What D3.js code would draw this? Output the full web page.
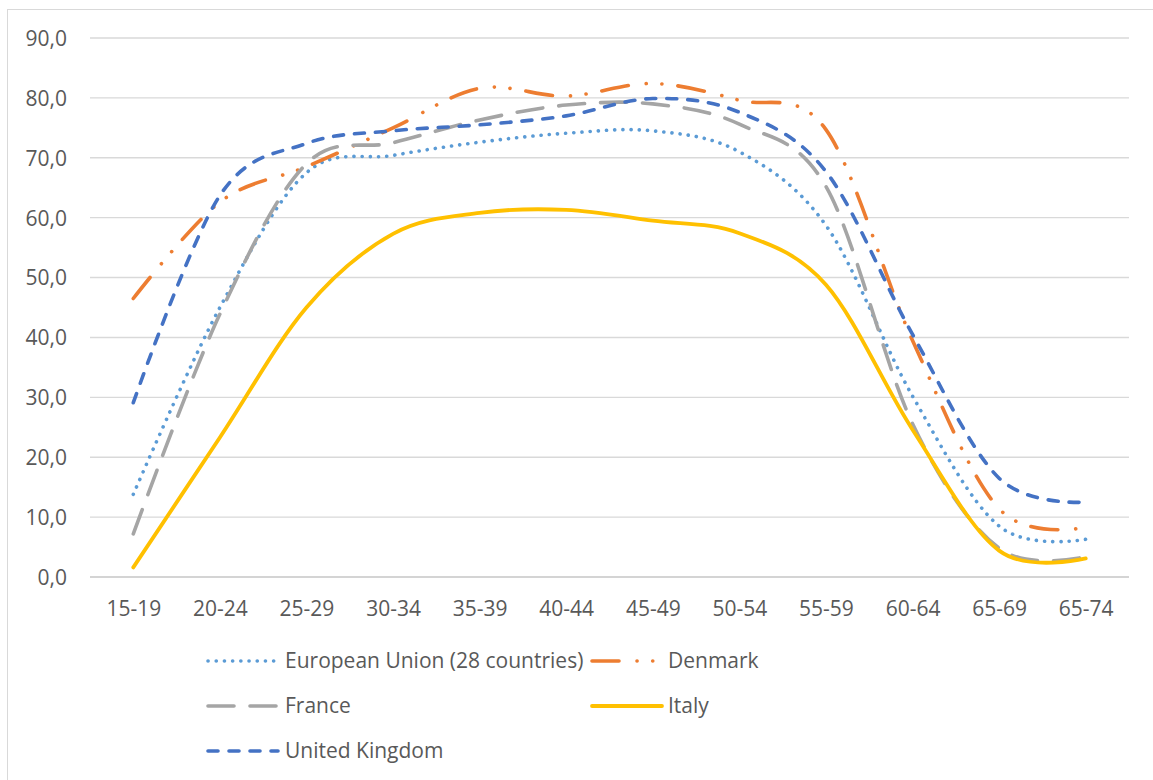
<!DOCTYPE html>
<html>
<head>
<meta charset="utf-8">
<script src="https://cdn.jsdelivr.net/npm/d3@7/dist/d3.min.js"></script>
<style>
  html, body { margin: 0; padding: 0; background: #ffffff; }
  svg { display: block; }
  text { font-family: "Open Sans", "DejaVu Sans", sans-serif; fill: #595959; }
</style>
</head>
<body>
<svg id="chart" width="1153" height="780"></svg>
<script>
// Age groups on the category axis
const ageGroups = ["15-19", "20-24", "25-29", "30-34", "35-39", "40-44",
                   "45-49", "50-54", "55-59", "60-64", "65-69", "65-74"];

// Employment rate (%) by age group
const euValues      = [13.8, 45.0, 67.5, 70.4, 72.6, 74.1, 74.5, 71.0, 58.7, 30.2, 8.5, 6.3];
const denmarkValues = [46.5, 62.6, 68.5, 75.0, 81.6, 80.3, 82.4, 79.6, 74.7, 39.5, 11.4, 8.3];
const franceValues  = [7.2, 43.9, 69.0, 72.5, 76.3, 78.8, 79.0, 75.6, 65.2, 25.6, 4.8, 3.4];
const italyValues   = [1.6, 23.3, 45.0, 57.3, 60.8, 61.3, 59.5, 57.4, 48.8, 24.6, 4.4, 3.1];
const ukValues      = [29.1, 63.7, 72.4, 74.5, 75.5, 77.0, 79.9, 77.6, 67.7, 40.5, 16.5, 12.5];

const seriesNames = ["European Union (28 countries)", "Denmark", "France", "Italy", "United Kingdom"];

// Value axis ticks
const yTicks = [0, 10, 20, 30, 40, 50, 60, 70, 80, 90];

const series = [
  { name: seriesNames[0], values: euValues,      color: "#5B9BD5", dash: "0.1,8.1" },
  { name: seriesNames[1], values: denmarkValues, color: "#ED7D31", dash: "27,18,0.1,15.6,0.1,16" },
  { name: seriesNames[2], values: franceValues,  color: "#A5A5A5", dash: "26,16" },
  { name: seriesNames[3], values: italyValues,   color: "#FFC000", dash: null },
  { name: seriesNames[4], values: ukValues,      color: "#4472C4", dash: "10,11" }
];

const svg = d3.select("#chart");

// Chart frame (top and left edges visible)
svg.append("rect")
  .attr("x", 7.5).attr("y", 9.5)
  .attr("width", 1170).attr("height", 800)
  .attr("fill", "none")
  .attr("stroke", "#d9d9d9")
  .attr("stroke-width", 1);

const plot = { left: 90, right: 1129, top: 38, bottom: 577 };

const x = d3.scalePoint()
  .domain(ageGroups)
  .range([plot.left, plot.right])
  .padding(0.5);

const y = d3.scaleLinear()
  .domain([0, 90])
  .range([plot.bottom, plot.top]);

const fmt = v => v.toFixed(1).replace(".", ",");

// Horizontal gridlines
svg.append("g")
  .selectAll("line")
  .data(yTicks.filter(t => t > 0))
  .join("line")
  .attr("x1", plot.left).attr("x2", plot.right)
  .attr("y1", d => y(d)).attr("y2", d => y(d))
  .attr("stroke", "#d9d9d9")
  .attr("stroke-width", 1.4);

// Category axis line
svg.append("line")
  .attr("x1", plot.left).attr("x2", plot.right)
  .attr("y1", y(0)).attr("y2", y(0))
  .attr("stroke", "#c6c6c6")
  .attr("stroke-width", 1.6);

// Value axis labels
const yAxis = d3.axisLeft(y).tickValues(yTicks).tickFormat(fmt).tickSize(0).tickPadding(0);
const yg = svg.append("g").attr("transform", "translate(67,0)").call(yAxis);
yg.select(".domain").remove();
yg.selectAll("text")
  .attr("font-size", 21)
  .attr("dy", "0.35em")
  .style("font-family", "'Open Sans', sans-serif")
  .attr("fill", "#595959");

// Category axis labels
const xAxis = d3.axisBottom(x).tickSize(0).tickPadding(0);
const xg = svg.append("g").attr("transform", `translate(0,${y(0)})`).call(xAxis);
xg.select(".domain").remove();
xg.selectAll("text")
  .attr("font-size", 21)
  .attr("y", 39)
  .attr("dy", 0)
  .style("font-family", "'Open Sans', sans-serif")
  .attr("fill", "#595959");

// Smoothed series lines
const line = d3.line()
  .x((d, i) => x(ageGroups[i]))
  .y(d => y(d))
  .curve(d3.curveCardinal.tension(0));

svg.append("g")
  .selectAll("path")
  .data(series)
  .join("path")
  .attr("d", d => line(d.values))
  .attr("fill", "none")
  .attr("stroke", d => d.color)
  .attr("stroke-width", d => d.dash ? 3.6 : 3.8)
  .attr("stroke-linecap", "round")
  .attr("stroke-linejoin", "round")
  .attr("stroke-dasharray", d => d.dash);

// Legend
const legendPos = [
  { x: 208, y: 661 }, { x: 592, y: 661 },
  { x: 208, y: 706 }, { x: 592, y: 706 },
  { x: 208, y: 751 }
];
const legend = svg.append("g")
  .selectAll("g")
  .data(series)
  .join("g")
  .attr("transform", (d, i) => `translate(${legendPos[i].x},${legendPos[i].y})`);

legend.append("line")
  .attr("x1", 0).attr("x2", 70)
  .attr("y1", 0).attr("y2", 0)
  .attr("stroke", d => d.color)
  .attr("stroke-width", d => d.dash ? 3.6 : 3.8)
  .attr("stroke-linecap", "round")
  .attr("stroke-dasharray", d => d.dash);

legend.append("text")
  .attr("x", (d, i) => i % 2 === 0 ? 77 : 76)
  .attr("y", 0)
  .attr("dy", "0.35em")
  .attr("font-size", 21)
  .text(d => d.name);
</script>
</body>
</html>
